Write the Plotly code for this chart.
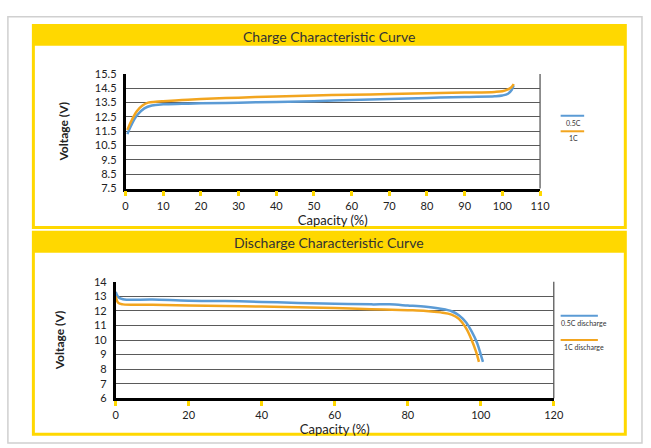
import plotly.graph_objects as go

W, H = 651, 448

# ---- data ----
charge_x_05 = [0.5, 1.5, 3, 5, 7, 10, 15, 20, 30, 40, 50, 60, 70, 80, 90, 98, 100, 101.5, 102.5, 103]
charge_y_05 = [11.3, 11.9, 12.6, 13.1, 13.3, 13.38, 13.42, 13.45, 13.5, 13.55, 13.6, 13.68, 13.75, 13.83, 13.9, 13.95, 14.0, 14.12, 14.4, 14.7]
charge_x_1 = [0.5, 1.5, 3, 4.5, 6, 8, 10, 15, 20, 30, 40, 50, 60, 70, 80, 90, 98, 100, 101.5, 102.5, 103]
charge_y_1 = [11.6, 12.2, 12.9, 13.3, 13.5, 13.56, 13.6, 13.68, 13.75, 13.85, 13.93, 14.0, 14.05, 14.1, 14.15, 14.2, 14.25, 14.3, 14.42, 14.6, 14.8]

dis_x_05 = [0, 0.7, 2, 10, 20, 30, 40, 50, 60, 70, 75, 80, 85, 89, 92, 94, 96, 97.5, 99, 100, 100.6]
dis_y_05 = [13.3, 12.95, 12.8, 12.78, 12.7, 12.68, 12.62, 12.55, 12.5, 12.45, 12.45, 12.37, 12.28, 12.15, 11.98, 11.7, 11.2, 10.6, 9.8, 9.0, 8.5]
dis_x_1 = [0, 0.7, 2, 10, 20, 30, 40, 50, 60, 70, 80, 85, 89, 92, 94, 96, 97.5, 98.7, 99.5]
dis_y_1 = [13.0, 12.55, 12.45, 12.42, 12.37, 12.33, 12.3, 12.25, 12.2, 12.12, 12.05, 12.0, 11.9, 11.75, 11.45, 10.8, 10.0, 9.2, 8.5]

charge_yticks = [7.5, 8.5, 9.5, 10.5, 11.5, 12.5, 13.5, 14.5, 15.5]
charge_xticks = [0, 10, 20, 30, 40, 50, 60, 70, 80, 90, 100, 110]
dis_yticks = [6, 7, 8, 9, 10, 11, 12, 13, 14]
dis_xticks = [0, 20, 40, 60, 80, 100, 120]

legend1 = ["0.5C", "1C"]
legend2 = ["0.5C discharge", "1C discharge"]

BLUE = "#5b9bd5"
ORANGE = "#f2a51f"
YELLOW = "#ffd800"
FONT = "Lato"


def px(x):
    return x / W


def py(y):
    return 1 - y / H


fig = go.Figure()
fig.add_trace(go.Scatter(x=charge_x_05, y=charge_y_05, mode="lines", line=dict(color=BLUE, width=2.5, shape="spline"),
                         xaxis="x", yaxis="y", showlegend=False))
fig.add_trace(go.Scatter(x=charge_x_1, y=charge_y_1, mode="lines", line=dict(color=ORANGE, width=2.5, shape="spline"),
                         xaxis="x", yaxis="y", showlegend=False))
fig.add_trace(go.Scatter(x=dis_x_05, y=dis_y_05, mode="lines", line=dict(color=BLUE, width=2.5, shape="spline"),
                         xaxis="x2", yaxis="y2", showlegend=False))
fig.add_trace(go.Scatter(x=dis_x_1, y=dis_y_1, mode="lines", line=dict(color=ORANGE, width=2.5, shape="spline"),
                         xaxis="x2", yaxis="y2", showlegend=False))

tickfont = dict(family=FONT, size=11, color="#222222")
titlefont = dict(family=FONT, size=13, color="#222")
common_x = dict(showgrid=False, showline=True, linecolor="black", linewidth=2.5, ticks="outside",
                tickcolor=YELLOW, tickwidth=2.5, ticklen=5, tickfont=tickfont, zeroline=False)
common_y = dict(showgrid=True, gridcolor="#5a5a5a", gridwidth=1.3, showline=True, linecolor="black",
                linewidth=2.5, ticks="", tickfont=tickfont, zeroline=False, ticklabelstandoff=4)

fig.update_layout(
    width=W, height=H, margin=dict(l=0, r=0, t=0, b=0),
    paper_bgcolor="white", plot_bgcolor="white",
    xaxis=dict(common_x, domain=[px(125), px(548)], range=[0, 110], tickvals=charge_xticks, anchor="y",
               title=dict(text="Capacity (%)", font=titlefont, standoff=0)),
    yaxis=dict(common_y, domain=[py(187), py(69)], range=[7.5, 15.5], tickvals=charge_yticks, anchor="x",
               title=dict(text="<b>Voltage (V)</b>", font=dict(family=FONT, size=12, color="#222"), standoff=24)),
    xaxis2=dict(common_x, domain=[px(115), px(562)], range=[0, 120], tickvals=dis_xticks, anchor="y2",
                title=dict(text="Capacity (%)", font=titlefont, standoff=0)),
    yaxis2=dict(common_y, domain=[py(403), py(283)], range=[6, 14], tickvals=dis_yticks, anchor="x2",
                title=dict(text="<b>Voltage (V)</b>", font=dict(family=FONT, size=12, color="#222"), standoff=27)),
)

shapes = []
# outer gray frame
shapes.append(dict(type="rect", xref="paper", yref="paper", x0=px(5), x1=px(652), y0=py(449), y1=py(10),
                   line=dict(color="#d0d0d0", width=1.5), fillcolor="rgba(0,0,0,0)", layer="below"))
# panels
for top, head, bot in [(19, 40, 227), (232, 253, 440)]:
    shapes.append(dict(type="rect", xref="paper", yref="paper", x0=px(31), x1=px(635), y0=py(bot), y1=py(top),
                       line=dict(color=YELLOW, width=3), fillcolor="white", layer="below"))
    shapes.append(dict(type="rect", xref="paper", yref="paper", x0=px(31), x1=px(635), y0=py(head), y1=py(top),
                       line=dict(width=0), fillcolor=YELLOW, layer="below"))
# right borders of plot boxes
for xr, yr in [("x", "y"), ("x2", "y2")]:
    shapes.append(dict(type="line", xref=f"{xr} domain", yref=f"{yr} domain", x0=1, x1=1, y0=0, y1=1,
                       line=dict(color="#5a5a5a", width=1.3), layer="below"))

annotations = [
    dict(text="Charge Characteristic Curve", xref="paper", yref="paper", x=px(333), y=py(30), showarrow=False,
         xanchor="center", yanchor="middle", font=dict(family=FONT, size=14, color="#333")),
    dict(text="Discharge Characteristic Curve", xref="paper", yref="paper", x=px(333), y=py(243), showarrow=False,
         xanchor="center", yanchor="middle", font=dict(family=FONT, size=14, color="#333")),
]

# legends
for (names, lcx, tcx, ys, half) in [(legend1, 581, 582, [112, 128], 12), (legend2, 588, 593, [318, 343], 19)]:
    for name, col, yline in zip(names, [BLUE, ORANGE], ys):
        shapes.append(dict(type="line", xref="paper", yref="paper", x0=px(lcx - half), x1=px(lcx + half),
                           y0=py(yline), y1=py(yline), line=dict(color=col, width=2)))
        annotations.append(dict(text=name, xref="paper", yref="paper", x=px(tcx), y=py(yline + 7), showarrow=False,
                                xanchor="center", yanchor="middle", font=dict(family=FONT, size=7, color="#333")))

fig.update_layout(shapes=shapes, annotations=annotations)
fig.write_html("out.html", config={"displayModeBar": False},
               post_script="document.body.style.margin='0';document.body.style.overflow='hidden';")
